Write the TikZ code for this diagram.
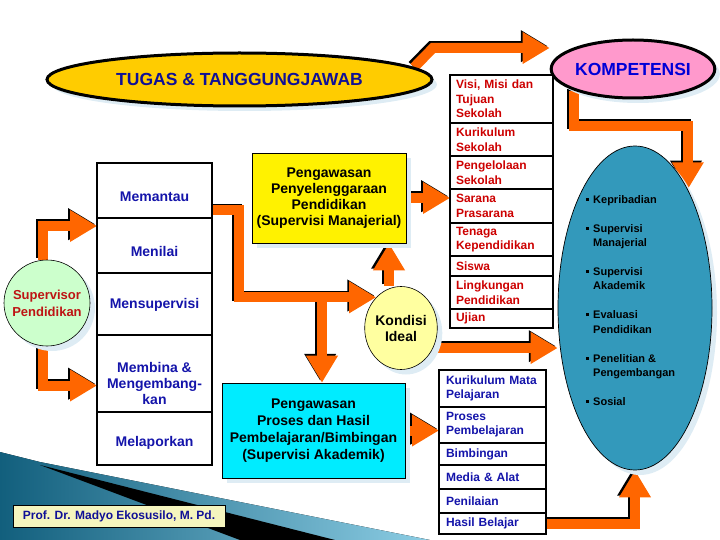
\documentclass[tikz,border=0pt]{standalone}
\usepackage{fontspec}
\setmainfont{Liberation Sans}
\usetikzlibrary{shapes.geometric,arrows.meta,shadows,calc}
\definecolor{orng}{RGB}{255,102,0}
\definecolor{gold}{RGB}{255,204,0}
\definecolor{pinkk}{RGB}{255,153,204}
\definecolor{tealb}{RGB}{51,153,187}
\definecolor{navyt}{RGB}{16,16,150}
\definecolor{bluet}{RGB}{0,0,215}
\definecolor{colblue}{RGB}{20,20,170}
\definecolor{redt}{RGB}{205,0,0}
\definecolor{supred}{RGB}{190,20,20}
\definecolor{greenc}{RGB}{204,255,204}
\definecolor{kondy}{RGB}{255,255,160}
\definecolor{cyanb}{RGB}{0,236,255}
\definecolor{shadowc}{RGB}{222,236,244}
\definecolor{authf}{RGB}{245,245,190}
\definecolor{bandL}{RGB}{18,95,125}
\definecolor{bandR}{RGB}{140,205,228}
\pgfdeclarelayer{back}
\pgfdeclarelayer{arrows}
\pgfsetlayers{back,arrows,main}
\newcommand\myfs[2]{\fontsize{#1}{#2}\selectfont\bfseries}
\newcommand\kbul{\makebox[7pt][l]{\rule[2.6pt]{2.6pt}{2.6pt}}}
\newcommand\kind{\hspace*{7pt}}
\tikzset{
  arrbase/.style={line width=10pt, line join=miter, -{Triangle[width=30pt,length=27pt]}},
  softshadow/.style={general shadow={fill=shadowc, shadow xshift=5pt, shadow yshift=-5pt}},
  tugasE/.style={ellipse, draw, line width=3pt, fill=gold, minimum width=385, minimum height=53, inner sep=0pt, text=navyt, font=\myfs{17.5}{20}, softshadow},
  kompE/.style={ellipse, draw, line width=3pt, fill=pinkk, minimum width=150, minimum height=58, inner sep=0pt, text=bluet, font=\myfs{17.5}{20}, softshadow},
  blueE/.style={ellipse, draw, line width=0.7pt, fill=tealb, minimum width=154, minimum height=324, inner sep=0pt, softshadow},
  items/.style={inner sep=0pt, align=left, text=black, font=\myfs{11}{14.5}},
  kondE/.style={ellipse, draw, line width=0.6pt, fill=kondy, minimum width=71, minimum height=83, inner sep=0pt, align=center, font=\myfs{14}{16}, softshadow},
  supC/.style={circle, draw, line width=0.6pt, fill=greenc, minimum size=86, inner sep=0pt, align=center, text=supred, font=\myfs{13}{17}, softshadow},
  ybox/.style={rectangle, draw, line width=0.6pt, fill=yellow, minimum width=154, minimum height=90, inner sep=0pt, align=center, font=\myfs{14}{16}, softshadow},
  cbox/.style={rectangle, draw, line width=0.6pt, fill=cyanb, minimum width=183, minimum height=95, inner sep=0pt, align=center, font=\myfs{14}{17}, softshadow},
  lrow/.style={rectangle, draw, line width=2.5pt, fill=white, minimum width=115, inner sep=0pt, outer sep=0pt, anchor=north},
  ltext/.style={inner sep=0pt, align=center, text=colblue, font=\myfs{14}{16}},
  trow/.style={rectangle, draw, line width=2.5pt, fill=white, text width=91, inner xsep=6pt, inner ysep=0pt, outer sep=0pt, align=left, anchor=north, text=redt, font=\myfs{12}{14.5}},
  brow/.style={rectangle, draw, line width=2.5pt, fill=white, text width=93, inner xsep=7pt, inner ysep=0pt, outer sep=0pt, align=left, anchor=north, text=colblue, font=\myfs{12}{14}},
  auth/.style={rectangle, draw, line width=1pt, fill=authf, minimum width=212, minimum height=22, inner sep=0pt, text=navyt, font=\myfs{12}{14}}
}
\newcommand\drawarrows{%
  \draw[arr] (tugas.4) -- (a1bend) -- (a1bend -| komp.west);
  \draw[arr] (komp.south west) -- ++(0,35) -| (blue.66);
  \draw[arr] (h6.east) -| (blue.south);
  \draw[arr] ([xshift=-4pt]sup.north) |- ([yshift=-8pt]m2.north west);
  \draw[arr] ([xshift=-4pt]sup.south) |- ([yshift=-12pt]m4.west);
  \draw[arr] ([yshift=-20pt]m1.east) -- ++(27,0) |- (kond.129);
  \draw[arr] (split) -- (split |- cyan.north);
  \draw[arr] (k7) -- (k7 |- ppp.south);
  \draw[arr] (ppp.east) -- (ppp.east -| r4.west);
  \draw[arr] (k9) -- (k9 -| blue.west);
  \draw[arr] (cyan.east) -- (cyan.east -| p2.west);
}
\begin{document}
\begin{tikzpicture}[x=1pt,y=-1pt]
\useasboundingbox (0,0) rectangle (720,540);
% background band
\begin{pgfonlayer}{back}
  \fill[left color=bandL, right color=bandR] (0,452) -- (40,462) -- (430,540) -- (0,540) -- cycle;
  \fill[black] (40,465) -- (335,540) -- (240,540) -- cycle;
\end{pgfonlayer}
% main shapes
\node[tugasE] (tugas) at (239.5,79.5) {TUGAS \& TANGGUNGJAWAB};
\node[kompE] (komp) at (633,69) {KOMPETENSI};
\node[blueE] (blue) at (635,308) {};
\node[items, anchor=north west] (klist) at (586,195) {\kbul Kepribadian\\[14.5pt]
\kbul Supervisi\\ \kind Manajerial\\[14pt]
\kbul Supervisi\\ \kind Akademik\\[14.5pt]
\kbul Evaluasi\\ \kind Pendidikan\\[14.5pt]
\kbul Penelitian \&\\ \kind Pengembangan\\[14pt]
\kbul Sosial};
\node[kondE] (kond) at (401,328) {Kondisi\\Ideal};
\node[supC] (sup) at (47,303) {Supervisor\\Pendidikan};
\node[ybox] (ppp) at (329,198) {Pengawasan\\Penyelenggaraan\\Pendidikan\\(Supervisi Manajerial)};
\node[cbox] (cyan) at (313.5,430.5) {Pengawasan\\Proses dan Hasil\\Pembelajaran/Bimbingan\\(Supervisi Akademik)};
% left column
\node[lrow, minimum height=55] (m1) at (154.5,163) {};
\node[lrow, minimum height=55] (m2) at (m1.south) {};
\node[lrow, minimum height=62] (m3) at (m2.south) {};
\node[lrow, minimum height=77] (m4) at (m3.south) {};
\node[lrow, minimum height=53] (m5) at (m4.south) {};
\node[ltext] (t1) at ([yshift=-6pt]m1.center) {Memantau};
\node[ltext] (t2) at ([yshift=-6pt]m2.center) {Menilai};
\node[ltext] (t3) at ([yshift=-1pt]m3.center) {Mensupervisi};
\node[ltext] (t4) at ([yshift=-10pt]m4.center) {Membina \&\\Mengembang-\\kan};
\node[ltext] (t5) at ([yshift=-4pt]m5.center) {Melaporkan};
% top list
\node[trow, minimum height=48] (r1) at (501.5,75) {Visi, Misi dan\\Tujuan\\Sekolah};
\node[trow, minimum height=33] (r2) at (r1.south) {Kurikulum\\Sekolah};
\node[trow, minimum height=33] (r3) at (r2.south) {Pengelolaan\\Sekolah};
\node[trow, minimum height=34] (r4) at (r3.south) {Sarana\\Prasarana};
\node[trow, minimum height=33] (r5) at (r4.south) {Tenaga\\Kependidikan};
\node[trow, minimum height=20] (r6) at (r5.south) {Siswa};
\node[trow, minimum height=33] (r7) at (r6.south) {Lingkungan\\Pendidikan};
\node[trow, minimum height=19] (r8) at (r7.south) {Ujian};
% bottom list
\node[brow, minimum height=37] (p1) at (492.5,370) {Kurikulum Mata\\Pelajaran};
\node[brow, minimum height=36] (p2) at (p1.south) {Proses\\Pembelajaran};
\node[brow, minimum height=22] (p3) at (p2.south) {Bimbingan};
\node[brow, minimum height=24] (p4) at (p3.south) {Media \& Alat};
\node[brow, minimum height=24] (p5) at (p4.south) {Penilaian};
\node[brow, minimum height=21] (h6) at (p5.south) {Hasil Belajar};
% author
\node[auth] (author) at (119,516) {Prof. Dr. Madyo Ekosusilo, M. Pd.};
% helper coordinates
\coordinate (a1bend) at (433,48);
\coordinate (split) at (322,298);
\coordinate (k7) at ([xshift=-12pt]kond.north);
\coordinate (k9) at ([yshift=-20pt]kond.east);
% arrows
\begin{pgfonlayer}{arrows}
  \begin{scope}[arr/.style={arrbase,black}, transform canvas={shift={(-1.8pt,1.8pt)}}]
    \drawarrows
  \end{scope}
  \begin{scope}[arr/.style={arrbase,orng}]
    \drawarrows
  \end{scope}
\end{pgfonlayer}
\end{tikzpicture}
\end{document}
